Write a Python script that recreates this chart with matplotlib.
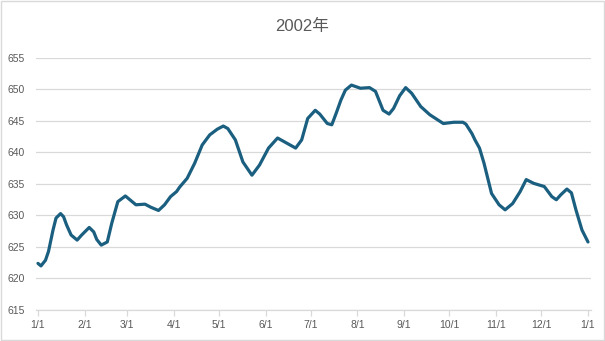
import numpy as np
import pandas as pd
import matplotlib.pyplot as plt
import matplotlib.dates as mdates
from matplotlib.patches import Rectangle

plt.rcParams['font.family'] = ['Liberation Sans', 'Noto Sans CJK SC', 'DejaVu Sans']

# day offsets from 2002-01-01 and the daily level
days = [0, 2, 5, 7, 10, 12, 15, 17, 19, 22, 26, 29, 34, 37, 39, 42, 46, 49, 53, 58,
        61, 65, 71, 75, 80, 84, 88, 92, 94, 99, 104, 109, 114, 119, 123, 126, 131, 136, 142, 147,
        153, 159, 165, 171, 175, 179, 184, 187, 192, 195, 198, 201, 204, 208, 214, 220, 224, 229, 233, 236,
        240, 244, 248, 254, 260, 269, 276, 282, 284, 288, 290, 293, 296, 301, 306, 310, 315, 320, 324, 329,
        336, 341, 344, 347, 351, 354, 357, 361, 365]
values = [622.4, 622.0, 622.9, 624.3, 627.7, 629.6, 630.3, 629.8, 628.5, 626.9, 626.1, 626.9, 628.1, 627.4, 626.2, 625.3, 625.8, 628.8, 632.2, 633.1,
          632.5, 631.7, 631.8, 631.3, 630.8, 631.7, 633.0, 633.8, 634.5, 635.9, 638.3, 641.2, 642.8, 643.7, 644.2, 643.8, 642.0, 638.5, 636.4, 638.0,
          640.7, 642.3, 641.5, 640.7, 642.0, 645.4, 646.7, 646.1, 644.6, 644.4, 646.3, 648.3, 649.9, 650.7, 650.2, 650.3, 649.7, 646.7, 646.1, 647.0,
          649.0, 650.3, 649.4, 647.3, 646.0, 644.6, 644.8, 644.8, 644.5, 643.0, 642.0, 640.7, 638.3, 633.5, 631.7, 630.9, 631.9, 633.8, 635.7, 635.1,
          634.6, 633.0, 632.5, 633.3, 634.2, 633.6, 630.9, 627.7, 625.8]

start = pd.Timestamp('2002-01-01')
dates = start + pd.to_timedelta(days, unit='D')

fig = plt.figure(figsize=(6.05, 3.41), dpi=100)
ax = fig.add_axes([36 / 605, 1 - 310 / 341, (591 - 36) / 605, (310 - 58) / 341])

ax.plot(dates, values, color='#1b5f80', linewidth=2.3, solid_joinstyle='round', solid_capstyle='round')

ax.set_ylim(615, 655)
ax.set_yticks(np.arange(615, 656, 5))
ax.set_xlim(start - pd.Timedelta(days=1.3), pd.Timestamp('2003-01-01') + pd.Timedelta(days=2))
ax.xaxis.set_major_locator(mdates.MonthLocator())
ax.xaxis.set_major_formatter(mdates.DateFormatter('%-m/%-d'))

ax.grid(axis='y', color='#d9d9d9', linewidth=0.9)
ax.set_axisbelow(True)
for side in ['top', 'right', 'left']:
    ax.spines[side].set_visible(False)
ax.spines['bottom'].set_color('#d9d9d9')
ax.spines['bottom'].set_linewidth(0.9)
ax.tick_params(axis='y', length=0, pad=8, labelsize=7.5, labelcolor='#595959')
ax.tick_params(axis='x', length=4, width=0.9, color='#d9d9d9', pad=3, labelsize=7.5, labelcolor='#595959')

fig.text(0.5, 1 - 26 / 341, '2002年', ha='center', va='center', fontsize=12, color='#595959')
fig.patches.append(Rectangle((0.001, 0.002), 0.997, 0.995, transform=fig.transFigure,
                             fill=False, edgecolor='#d9d9d9', linewidth=1))

fig.savefig('out.png', dpi=100)
